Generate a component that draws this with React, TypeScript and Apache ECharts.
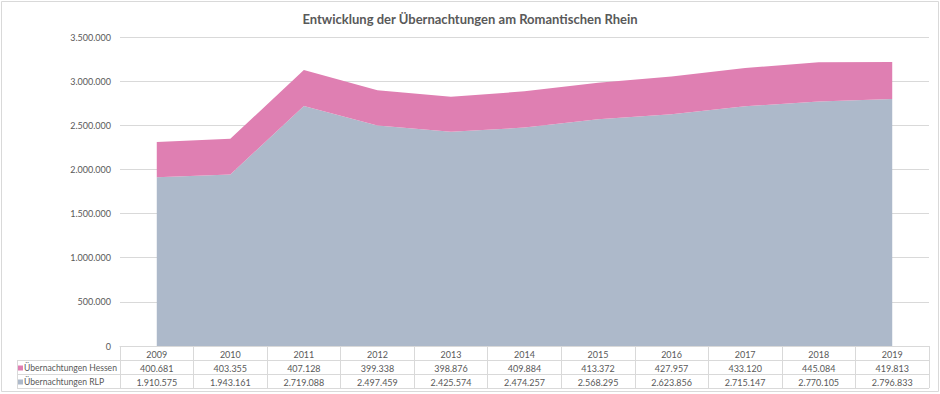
import React, { useEffect, useRef } from "react";
import * as echarts from "echarts";

const title = "Entwicklung der Übernachtungen am Romantischen Rhein";
const years = ["2009", "2010", "2011", "2012", "2013", "2014", "2015", "2016", "2017", "2018", "2019"];
const hessen = [400681, 403355, 407128, 399338, 398876, 409884, 413372, 427957, 433120, 445084, 419813];
const rlp = [1910575, 1943161, 2719088, 2497459, 2425574, 2474257, 2568295, 2623856, 2715147, 2770105, 2796833];
const nameHessen = "Übernachtungen Hessen";
const nameRlp = "Übernachtungen RLP";

const fmt = (n: number) => String(n).replace(/\B(?=(\d{3})+(?!\d))/g, ".");

const FONT = "Lato, 'Open Sans', sans-serif";
const TXT = "#595959";
const LINE = "#d9d9d9";

export default function App() {
  const ref = useRef<HTMLDivElement>(null);
  useEffect(() => {
    if (!ref.current) return;
    const chart = echarts.init(ref.current, undefined, { renderer: "svg" });
    const L = 120, R = 929, B = 346;
    const rows = [360, 374, 388];
    chart.setOption({
      animation: false,
      backgroundColor: "#ffffff",
      textStyle: { fontFamily: FONT },
      title: {
        text: title,
        left: "center",
        top: 7,
        textStyle: { fontFamily: FONT, fontSize: 13, fontWeight: "bold", color: TXT },
      },
      grid: { left: L, right: 940 - R, top: 37, bottom: 394 - B },
      legend: {
        orient: "vertical",
        left: 18,
        top: 361,
        padding: 0,
        itemWidth: 5,
        itemHeight: 5,
        itemGap: 0,
        icon: "rect",
        data: [nameHessen, nameRlp],
        selectedMode: false,
        textStyle: { fontFamily: FONT, fontSize: 8.6, color: TXT, lineHeight: 14, padding: [0, 0, 0, -4] },
      },
      xAxis: {
        type: "category",
        data: years,
        boundaryGap: true,
        axisLine: { lineStyle: { color: LINE } },
        axisTick: { show: true, interval: 0, length: 42, lineStyle: { color: LINE } },
        axisLabel: {
          interval: 0,
          margin: 1,
          fontFamily: FONT,
          fontSize: 9,
          color: TXT,
          lineHeight: 14,
          formatter: (v: string, i: number) => `${v}\n${fmt(hessen[i])}\n${fmt(rlp[i])}`,
        },
      },
      yAxis: {
        type: "value",
        min: 0,
        max: 3500000,
        interval: 500000,
        axisLine: { show: false },
        axisTick: { show: false },
        splitLine: { lineStyle: { color: LINE } },
        axisLabel: { margin: 9, fontFamily: FONT, fontSize: 9, color: TXT, formatter: (v: number) => fmt(v) },
      },
      series: [
        {
          name: nameRlp,
          type: "line",
          stack: "total",
          data: rlp,
          showSymbol: false,
          symbol: "none",
          lineStyle: { width: 0 },
          itemStyle: { color: "#ADB9CA" },
          areaStyle: { color: "#ADB9CA", opacity: 1 },
        },
        {
          name: nameHessen,
          type: "line",
          stack: "total",
          data: hessen,
          showSymbol: false,
          symbol: "none",
          lineStyle: { width: 0 },
          itemStyle: { color: "#DF7FB2" },
          areaStyle: { color: "#DF7FB2", opacity: 1 },
        },
      ],
      graphic: [
        { type: "rect", shape: { x: 1.5, y: 1.5, width: 937, height: 390 }, style: { fill: "none", stroke: LINE, lineWidth: 1 }, silent: true },
        ...rows.map((y) => ({
          type: "line",
          shape: { x1: 17, y1: y + 0.5, x2: R, y2: y + 0.5 },
          style: { stroke: LINE, lineWidth: 1 },
          silent: true,
        })),
        { type: "line", shape: { x1: 17.5, y1: 360, x2: 17.5, y2: 388 }, style: { stroke: LINE, lineWidth: 1 }, silent: true },
      ],
    });
    return () => chart.dispose();
  }, []);
  return <div ref={ref} style={{ position: "fixed", left: 0, top: 0, width: 940, height: 394 }} />;
}
